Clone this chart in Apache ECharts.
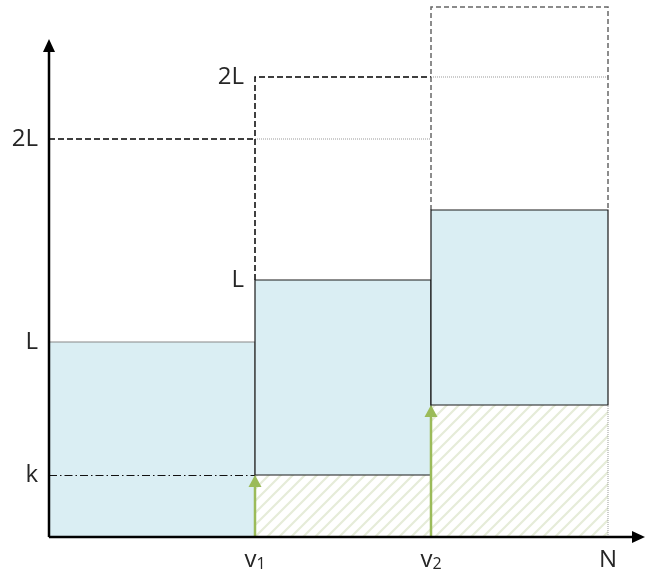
<!DOCTYPE html>
<html>
<head>
<meta charset="utf-8">
<script src="https://cdn.jsdelivr.net/npm/echarts@6/dist/echarts.min.js"></script>
<style>
html, body { margin: 0; padding: 0; background: #fff; }
#main { width: 657px; height: 572px; }
</style>
</head>
<body>
<div id="main"></div>
<script>
// positions along N
var xTicks = ['v1', 'v2', 'N'];
var xValues = [206, 382, 559];
var xEnd = 596;          // where the horizontal arrow stops
// levels on the vertical axis
var yTicks = ['k', 'L', '2L'];
var yValues = [62, 195, 398];
var yEnd = 498;          // where the vertical arrow stops
var yTop = 537;

var v1 = xValues[0], v2 = xValues[1], N = xValues[2];
var k = yValues[0], L = yValues[1], twoL = yValues[2];

// the three buckets: start, end and base level (each is L tall, 2L capacity)
var blockStart = [0, v1, v2];
var blockEnd = [v1, v2, N];
var blockBase = [0, k, 132];

var font = 'Open Sans';
var txtColor = '#262626';

// diagonal hatch for the area under each bucket
function hatch() {
    var c = document.createElement('canvas');
    var s = 12;
    c.width = s; c.height = s;
    var g = c.getContext('2d');
    g.strokeStyle = '#e6ecd9';
    g.lineWidth = 2.2;
    g.beginPath();
    g.moveTo(-2, s + 2); g.lineTo(s + 2, -2);
    g.moveTo(-2, 2); g.lineTo(2, -2);
    g.moveTo(s - 2, s + 2); g.lineTo(s + 2, s - 2);
    g.stroke();
    return c;
}
var hatchImg = hatch();

function rectOf(api, x0, x1, y0, y1) {
    var a = api.coord([x0, y1]);
    var b = api.coord([x1, y0]);
    return { x: a[0], y: a[1], width: b[0] - a[0], height: b[1] - a[1] };
}

var blockData = [];
blockStart.forEach(function (s, i) {
    blockData.push([s, blockEnd[i], blockBase[i], blockBase[i] + L]);
});
var hatchData = [];
for (var i = 1; i < blockStart.length; i++) {
    hatchData.push([blockStart[i], blockEnd[i], 0, blockBase[i]]);
}

// capacity outlines
var dashedBlack = [
    { coords: [[0, twoL], [v1, twoL]] },
    { coords: [[v1, k + L], [v1, k + twoL], [v2, k + twoL]] }
];
var b2 = blockBase[2];
var dashedGray = [
    { coords: [[v2, b2 + L], [v2, b2 + twoL], [N, b2 + twoL], [N, b2 + L]] }
];
var dotted = [
    { coords: [[v1, twoL], [v2, twoL]] },
    { coords: [[v2, k + twoL], [N, k + twoL]] },
    { coords: [[N, 0], [N, b2]] }
];
// [x0, y0, x1, y1]
var greenArrows = [
    [v1, 0, v1, k],
    [v2, 0, v2, b2]
];
var axisArrows = [
    [0, 0, 0, yEnd],
    [0, 0, xEnd, 0]
];

var notes = [
    [v1, k + L, 'L'],
    [v1, k + twoL, '2L']
];

function arrowItem(api, d, color, width, headLen, headW) {
    var p0 = api.coord([d[0], d[1]]);
    var p1 = api.coord([d[2], d[3]]);
    var dx = p1[0] - p0[0], dy = p1[1] - p0[1];
    var len = Math.sqrt(dx * dx + dy * dy);
    var ux = dx / len, uy = dy / len;
    var bx = p1[0] - ux * headLen, by = p1[1] - uy * headLen;
    return {
        type: 'group',
        children: [
            {
                type: 'line',
                shape: { x1: p0[0], y1: p0[1], x2: bx + ux, y2: by + uy },
                style: { stroke: color, lineWidth: width }
            },
            {
                type: 'polygon',
                shape: {
                    points: [
                        [p1[0], p1[1]],
                        [bx - uy * headW / 2, by + ux * headW / 2],
                        [bx + uy * headW / 2, by - ux * headW / 2]
                    ]
                },
                style: { fill: color }
            }
        ]
    };
}

var chart = echarts.init(document.getElementById('main'));
var option = {
    animation: false,
    grid: { left: 49, right: 12, top: 0, bottom: 35 },
    xAxis: {
        type: 'value',
        min: 0,
        max: xEnd,
        axisLine: { show: false },
        axisTick: { show: false },
        splitLine: { show: false },
        axisLabel: {
            customValues: xValues,
            margin: 5,
            color: txtColor,
            fontFamily: font,
            fontSize: 24,
            formatter: function (val) {
                var t = xTicks[xValues.indexOf(val)] || '';
                if (t.length > 1) return '{m|' + t[0] + '}{s|' + t.slice(1) + '}';
                return '{m|' + t + '}';
            },
            rich: {
                m: { fontFamily: font, fontSize: 24, color: txtColor, lineHeight: 30, verticalAlign: 'bottom' },
                s: { fontFamily: font, fontSize: 16, color: txtColor, lineHeight: 18, verticalAlign: 'bottom' }
            }
        }
    },
    yAxis: {
        type: 'value',
        min: 0,
        max: yTop,
        axisLine: { show: false },
        axisTick: { show: false },
        splitLine: { show: false },
        axisLabel: {
            customValues: yValues,
            margin: 11,
            color: txtColor,
            fontFamily: font,
            fontSize: 24,
            formatter: function (val) {
                return yTicks[yValues.indexOf(val)] || '';
            }
        }
    },
    series: [
        {
            type: 'custom',
            name: 'hatch',
            silent: true,
            data: hatchData,
            renderItem: function (params, api) {
                var d = hatchData[params.dataIndex];
                return {
                    type: 'rect',
                    shape: rectOf(api, d[0], d[1], d[2], d[3]),
                    style: { fill: { image: hatchImg, repeat: 'repeat' }, stroke: null }
                };
            }
        },
        {
            type: 'lines',
            coordinateSystem: 'cartesian2d',
            polyline: true,
            silent: true,
            data: dotted,
            lineStyle: { color: '#9a9a9a', width: 1, type: [1, 1], opacity: 1 }
        },
        {
            type: 'lines',
            coordinateSystem: 'cartesian2d',
            polyline: true,
            silent: true,
            data: dashedBlack,
            lineStyle: { color: '#000', width: 1.5, type: [6, 3], opacity: 1 }
        },
        {
            type: 'lines',
            coordinateSystem: 'cartesian2d',
            polyline: true,
            silent: true,
            data: dashedGray,
            lineStyle: { color: '#666', width: 1.5, type: [5, 3], opacity: 1 }
        },
        {
            type: 'custom',
            name: 'buckets',
            silent: true,
            data: blockData,
            renderItem: function (params, api) {
                var d = blockData[params.dataIndex];
                return {
                    type: 'rect',
                    shape: rectOf(api, d[0], d[1], d[2], d[3]),
                    style: {
                        fill: '#daeef3',
                        stroke: params.dataIndex === 0 ? '#888' : '#1a1a1a',
                        lineWidth: 1.2
                    }
                };
            }
        },
        {
            type: 'lines',
            coordinateSystem: 'cartesian2d',
            silent: true,
            data: [{ coords: [[0, k], [v1, k]] }],
            lineStyle: { color: '#111', width: 1, type: [8, 3, 1.5, 3], opacity: 1 }
        },
        {
            type: 'custom',
            name: 'levels',
            silent: true,
            data: greenArrows,
            renderItem: function (params, api) {
                return arrowItem(api, greenArrows[params.dataIndex], '#9bbb59', 2.5, 12, 13);
            }
        },
        {
            type: 'custom',
            name: 'axes',
            silent: true,
            data: axisArrows,
            renderItem: function (params, api) {
                return arrowItem(api, axisArrows[params.dataIndex], '#000', 2.5, 13, 12);
            }
        },
        {
            type: 'custom',
            name: 'notes',
            silent: true,
            data: notes,
            renderItem: function (params, api) {
                var d = notes[params.dataIndex];
                var p = api.coord([d[0], d[1]]);
                return {
                    type: 'text',
                    x: p[0] - 11,
                    y: p[1],
                    style: {
                        text: d[2],
                        fill: txtColor,
                        font: '24px "' + font + '"',
                        align: 'right',
                        verticalAlign: 'middle'
                    }
                };
            }
        }
    ]
};
chart.setOption(option);
</script>
</body>
</html>
